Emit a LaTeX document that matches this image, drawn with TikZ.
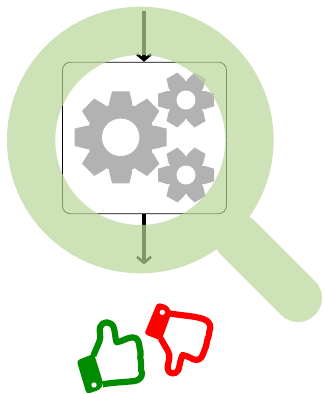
\documentclass[tikz,border=0pt]{standalone}
\usetikzlibrary{arrows.meta}
\definecolor{ringgreen}{RGB}{186,214,154}
\definecolor{geargray}{RGB}{178,178,178}
\definecolor{thumbgreen}{RGB}{0,140,0}
\newcommand{\mygear}[8]{%
  \begin{scope}[shift={(#1,#2)}]
    \fill[geargray] (0,0) circle (#4);
    \foreach \k in {1,...,#6}{
      \fill[geargray,rotate=\k*360/#6]
        (0,-#8) -- (#4+0.5,-#8) -- (#3,-#7) -- (#3,#7) -- (#4+0.5,#8) -- (0,#8) -- cycle;
    }
    \fill[white] (0,0) circle (#5);
  \end{scope}}
\tikzset{
  flow/.style={black,line width=3.2pt,-{Straight Barb[length=6pt,width=14pt,line width=2.6pt]}},
  frame/.style={draw=black,line width=0.9pt,rounded corners=8pt},
  thumbline/.style={line width=6.2pt,line join=round,fill=white}
}
\begin{document}
\begin{tikzpicture}[x=1pt,y=-1pt]
\useasboundingbox (0,0) rectangle (324,394);
\fill[white] (0,0) rectangle (324,394);
\coordinate (top) at (144,11);
\coordinate (bottom) at (144,264.5);
\node[frame,draw,minimum width=164pt,minimum height=151.5pt,inner sep=0pt,anchor=north west] (box) at (62,61.8) {};
\draw[flow] (top) -- (top|-box.north);
\draw[flow] (box.south-|bottom) -- (bottom);
\mygear{120.7}{137.3}{46}{34}{18.7}{8}{8.7}{11.5}
\mygear{186}{100}{28}{18.5}{9.5}{6}{6.3}{9}
\mygear{186}{175}{28}{18.5}{9.5}{6}{6.3}{9}
\begin{scope}[transparency group,opacity=0.7]
\fill[ringgreen,even odd rule]
  (140.3,140) circle (133.3) (140.3,140) circle (85);
\draw[ringgreen,line width=48pt,line cap=round] (238,238) -- (298,298);
\end{scope}
\begin{scope}[shift={(70,295)},x=0.3333pt,y=-0.3333pt]
  % green thumb
  \draw[thumbline,draw=thumbgreen]
    (70,182) -- (88,140) .. controls (95,120) and (86,112) .. (90,97)
    .. controls (95,78) and (125,75) .. (132,100)
    .. controls (137,120) and (135,130) .. (140,142)
    .. controls (160,138) and (170,128) .. (188,127)
    .. controls (205,127) and (208,145) .. (209,160)
    .. controls (216,175) and (208,185) .. (212,195)
    .. controls (216,210) and (210,220) .. (216,235)
    .. controls (216,250) and (205,255) .. (195,258)
    .. controls (160,262) and (130,262) .. (98,268);
  \fill[thumbgreen,rounded corners=3pt] (20,197) -- (72,176) -- (100,266) -- (90,284) -- (50,297) -- cycle;
  \fill[white] (72,270) circle (8);
  % red thumb
  \draw[thumbline,draw=red]
    (298,55) .. controls (335,62) and (370,62) .. (400,72)
    .. controls (420,78) and (425,95) .. (418,110)
    .. controls (418,125) and (410,135) .. (410,145)
    .. controls (408,160) and (402,165) .. (400,175)
    .. controls (395,195) and (380,198) .. (368,192)
    .. controls (355,185) and (348,182) .. (338,180)
    .. controls (330,195) and (330,210) .. (325,225)
    .. controls (318,240) and (295,238) .. (293,222)
    .. controls (292,205) and (300,195) .. (298,180)
    .. controls (295,165) and (282,150) .. (272,130);
  \fill[red,rounded corners=3pt] (262,23) -- (292,31) -- (305,52) -- (274,137) -- (223,117) -- cycle;
  \fill[white] (277,52) circle (8);
\end{scope}
\end{tikzpicture}
\end{document}
